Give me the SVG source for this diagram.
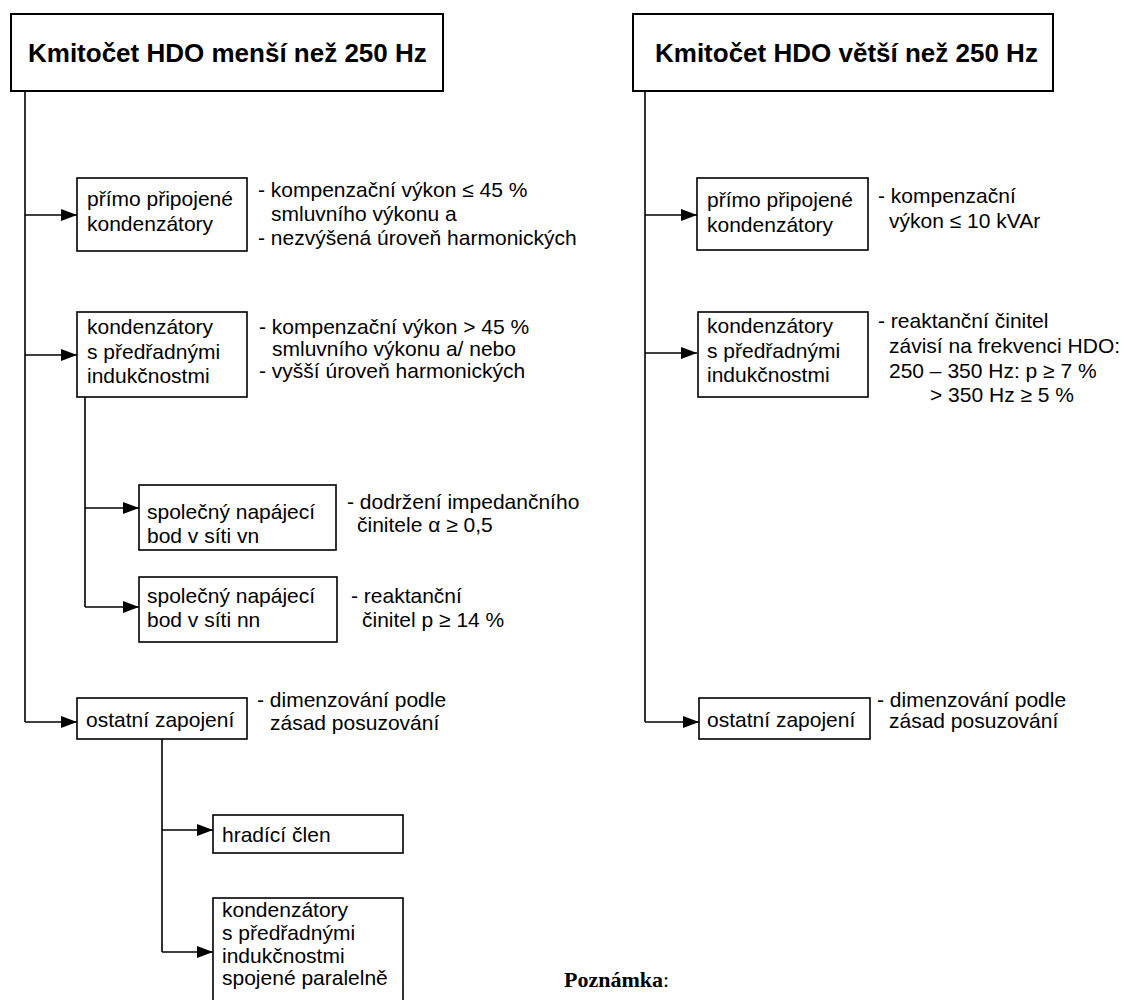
<svg xmlns="http://www.w3.org/2000/svg" width="1127" height="1000" viewBox="0 0 1127 1000">
  <style>
    .bg { fill: #ffffff; }
    .box { fill: #ffffff; stroke: #000000; stroke-width: 1.6; }
    .title-box { fill: #ffffff; stroke: #000000; stroke-width: 2; }
    .wire { fill: none; stroke: #000000; stroke-width: 1.6; }
    .arrow { fill: none; stroke: #000000; stroke-width: 1.6; marker-end: url(#head); }
    text { font-family: "Liberation Sans", Arial, sans-serif; font-size: 21px; fill: #000000; }
    .title { font-size: 26px; font-weight: bold; }
    .note { font-family: "Liberation Serif", "Times New Roman", serif; font-size: 22px; }
  </style>
  <defs>
    <marker id="head" markerUnits="userSpaceOnUse" markerWidth="16" markerHeight="12" refX="16" refY="6" orient="auto">
      <path d="M0,0 L16,6 L0,12 Z" fill="#000000"/>
    </marker>
  </defs>

  <rect class="bg" x="0" y="0" width="1127" height="1000"/>

  <!-- connectors -->
  <g id="connectors">
    <!-- left trunk -->
    <path class="wire" d="M25,91 V722"/>
    <path class="arrow" d="M25,215 H77"/>
    <path class="arrow" d="M25,355 H77"/>
    <path class="arrow" d="M25,722 H77"/>
    <!-- branch below the reactor-capacitor box -->
    <path class="wire" d="M85,397 V607"/>
    <path class="arrow" d="M85,508 H139"/>
    <path class="arrow" d="M85,607 H139"/>
    <!-- branch below "ostatní zapojení" -->
    <path class="wire" d="M162,739 V952"/>
    <path class="arrow" d="M162,830 H213"/>
    <path class="arrow" d="M162,952 H213"/>
    <!-- right trunk -->
    <path class="wire" d="M645,91 V722"/>
    <path class="arrow" d="M645,215 H697"/>
    <path class="arrow" d="M645,353 H697"/>
    <path class="arrow" d="M645,722 H699"/>
  </g>

  <!-- left column -->
  <g id="title-low">
    <rect class="title-box" x="11" y="14" width="432" height="77"/>
    <text class="title" x="28" y="62">Kmitočet HDO menší než 250 Hz</text>
  </g>

  <g id="low-direct">
    <rect class="box" x="77" y="178" width="170" height="73"/>
    <text x="87" y="206">přímo připojené</text>
    <text x="87" y="231">kondenzátory</text>
  </g>
  <g id="low-direct-note">
    <text x="258" y="197">- kompenzační výkon ≤ 45 %</text>
    <text x="271" y="221">smluvního výkonu a</text>
    <text x="258" y="245">- nezvýšená úroveň harmonických</text>
  </g>

  <g id="low-reactor">
    <rect class="box" x="77" y="312" width="170" height="85"/>
    <text x="87" y="334">kondenzátory</text>
    <text x="87" y="359">s předřadnými</text>
    <text x="87" y="383">indukčnostmi</text>
  </g>
  <g id="low-reactor-note">
    <text x="259" y="334">- kompenzační výkon &gt; 45 %</text>
    <text x="272" y="356">smluvního výkonu a/ nebo</text>
    <text x="259" y="378">- vyšší úroveň harmonických</text>
  </g>

  <g id="low-vn">
    <rect class="box" x="139" y="485" width="197" height="65"/>
    <text x="147" y="519">společný napájecí</text>
    <text x="147" y="543">bod v síti vn</text>
  </g>
  <g id="low-vn-note">
    <text x="347" y="509">- dodržení impedančního</text>
    <text x="357" y="532">činitele α ≥ 0,5</text>
  </g>

  <g id="low-nn">
    <rect class="box" x="139" y="577" width="198" height="65"/>
    <text x="147" y="603">společný napájecí</text>
    <text x="147" y="627">bod v síti nn</text>
  </g>
  <g id="low-nn-note">
    <text x="351" y="603">- reaktanční</text>
    <text x="362" y="627">činitel p ≥ 14 %</text>
  </g>

  <g id="low-other">
    <rect class="box" x="77" y="698" width="170" height="41"/>
    <text x="86" y="727">ostatní zapojení</text>
  </g>
  <g id="low-other-note">
    <text x="257" y="707">- dimenzování podle</text>
    <text x="270" y="730">zásad posuzování</text>
  </g>

  <g id="low-blocking">
    <rect class="box" x="213" y="815" width="190" height="38"/>
    <text x="222" y="842">hradící člen</text>
  </g>

  <g id="low-parallel">
    <rect class="box" x="213" y="898" width="190" height="106"/>
    <text x="222" y="917">kondenzátory</text>
    <text x="222" y="940">s předřadnými</text>
    <text x="222" y="963">indukčnostmi</text>
    <text x="222" y="985">spojené paralelně</text>
  </g>

  <!-- right column -->
  <g id="title-high">
    <rect class="title-box" x="633" y="14" width="420" height="77"/>
    <text class="title" x="655" y="62">Kmitočet HDO větší než 250 Hz</text>
  </g>

  <g id="high-direct">
    <rect class="box" x="697" y="178" width="171" height="72"/>
    <text x="707" y="207">přímo připojené</text>
    <text x="707" y="232">kondenzátory</text>
  </g>
  <g id="high-direct-note">
    <text x="878" y="203">- kompenzační</text>
    <text x="889" y="228">výkon ≤ 10 kVAr</text>
  </g>

  <g id="high-reactor">
    <rect class="box" x="698" y="312" width="170" height="85"/>
    <text x="707" y="333">kondenzátory</text>
    <text x="707" y="358">s předřadnými</text>
    <text x="707" y="382">indukčnostmi</text>
  </g>
  <g id="high-reactor-note">
    <text x="878" y="328">- reaktanční činitel</text>
    <text x="889" y="353">závisí na frekvenci HDO:</text>
    <text x="889" y="378">250 – 350 Hz: p ≥ 7 %</text>
    <text x="930" y="402">&gt; 350 Hz ≥ 5 %</text>
  </g>

  <g id="high-other">
    <rect class="box" x="699" y="698" width="171" height="41"/>
    <text x="707" y="727">ostatní zapojení</text>
  </g>
  <g id="high-other-note">
    <text x="877" y="707">- dimenzování podle</text>
    <text x="889" y="728">zásad posuzování</text>
  </g>

  <!-- footnote heading -->
  <g id="note">
    <text class="note" x="564" y="987"><tspan font-weight="bold">Poznámka</tspan>:</text>
  </g>
</svg>
